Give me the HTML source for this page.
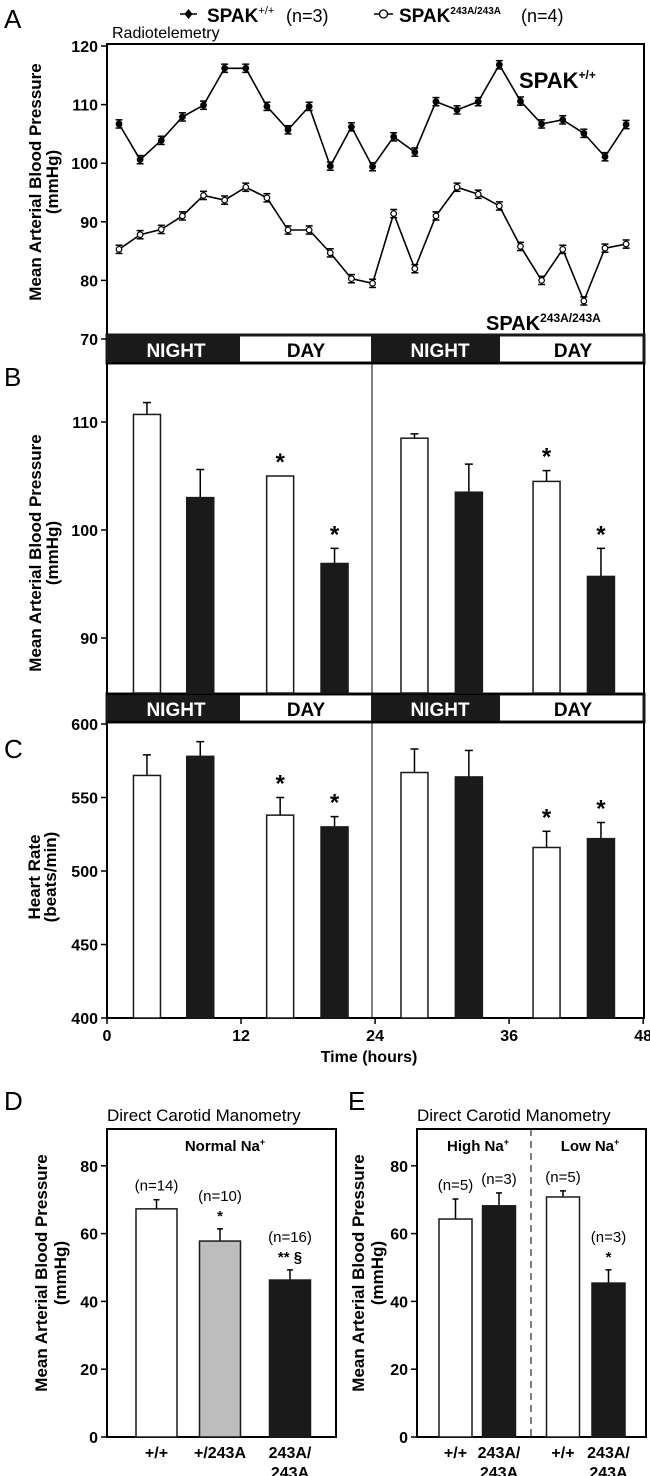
<!DOCTYPE html>
<html><head><meta charset="utf-8"><style>
html,body{margin:0;padding:0;background:#fff;}
svg{display:block;font-family:"Liberation Sans",Arial,sans-serif;}
.b{font-weight:bold;}
</style></head><body>
<svg id="fig" width="650" height="1476" viewBox="0 0 650 1476" xmlns="http://www.w3.org/2000/svg">
<g id="static">
<text x="4" y="28" font-size="26">A</text>
<text x="4" y="386" font-size="26">B</text>
<text x="4" y="758" font-size="26">C</text>
<text x="4" y="1110" font-size="26">D</text>
<text x="348" y="1110" font-size="26">E</text>

<g>
<g>
<line x1="180" y1="14" x2="197" y2="14" stroke="#000" stroke-width="1.5"/>
<path d="M188.5 9 L192.5 14 L188.5 19 L184.5 14Z" fill="#000"/>
<text x="207" y="22" font-size="19" class="b">SPAK<tspan font-size="11" dy="-8" font-weight="normal">+/+</tspan></text>
<text x="286" y="22" font-size="18">(n=3)</text>
</g>
<g>
<line x1="374" y1="14" x2="393" y2="14" stroke="#000" stroke-width="1.5"/>
<circle cx="383.5" cy="14" r="4" fill="#fff" stroke="#000" stroke-width="1.3"/>
<text x="399" y="22" font-size="19" class="b">SPAK<tspan font-size="10" dy="-8" class="b">243A/243A</tspan></text>
<text x="521" y="22" font-size="18">(n=4)</text>
</g>
</g>
<text x="112" y="38" font-size="16">Radiotelemetry</text>

<rect x="107" y="44" width="537" height="291" fill="none" stroke="#000" stroke-width="2"/>
<text x="519" y="88" font-size="22" class="b">SPAK<tspan font-size="12" dy="-9">+/+</tspan></text>
<text x="486" y="330" font-size="20" class="b">SPAK<tspan font-size="12" dy="-8">243A/243A</tspan></text>
<g font-size="17" class="b" text-anchor="middle">
<text transform="translate(41,182) rotate(-90)">Mean Arterial Blood Pressure</text>
<text transform="translate(58,182) rotate(-90)">(mmHg)</text>
<text transform="translate(41,553) rotate(-90)">Mean Arterial Blood Pressure</text>
<text transform="translate(58,553) rotate(-90)">(mmHg)</text>
<text transform="translate(40,877) rotate(-90)">Heart Rate</text>
<text transform="translate(56,877) rotate(-90)">(beats/min)</text>
<text transform="translate(47,1273) rotate(-90)">Mean Arterial Blood Pressure</text>
<text transform="translate(66,1273) rotate(-90)">(mmHg)</text>
<text transform="translate(364,1273) rotate(-90)">Mean Arterial Blood Pressure</text>
<text transform="translate(383,1273) rotate(-90)">(mmHg)</text>
</g>

<g>
<rect x="107" y="335" width="537" height="28" fill="#fff" stroke="#1a1a1a" stroke-width="3"/>
<rect x="107" y="335" width="133" height="28" fill="#1a1a1a"/>
<rect x="371" y="335" width="129" height="28" fill="#1a1a1a"/>
<text x="176" y="357" font-size="19" class="b" fill="#fff" text-anchor="middle">NIGHT</text>
<text x="306" y="357" font-size="19" class="b" text-anchor="middle">DAY</text>
<text x="440" y="357" font-size="19" class="b" fill="#fff" text-anchor="middle">NIGHT</text>
<text x="573" y="357" font-size="19" class="b" text-anchor="middle">DAY</text>
</g>
<g>
<rect x="107" y="694" width="537" height="28" fill="#fff" stroke="#1a1a1a" stroke-width="3"/>
<rect x="107" y="694" width="133" height="28" fill="#1a1a1a"/>
<rect x="371" y="694" width="129" height="28" fill="#1a1a1a"/>
<text x="176" y="716" font-size="19" class="b" fill="#fff" text-anchor="middle">NIGHT</text>
<text x="306" y="716" font-size="19" class="b" text-anchor="middle">DAY</text>
<text x="440" y="716" font-size="19" class="b" fill="#fff" text-anchor="middle">NIGHT</text>
<text x="573" y="716" font-size="19" class="b" text-anchor="middle">DAY</text>
</g>

<rect x="107" y="363" width="537" height="331" fill="none" stroke="#000" stroke-width="2"/>
<line x1="372" y1="363" x2="372" y2="694" stroke="#000" stroke-width="1"/>
<rect x="107" y="722" width="537" height="296" fill="none" stroke="#000" stroke-width="2"/>
<line x1="372" y1="722" x2="372" y2="1018" stroke="#000" stroke-width="1"/>
<text x="369" y="1062" font-size="16" class="b" text-anchor="middle">Time (hours)</text>

<text x="107" y="1121" font-size="17">Direct Carotid Manometry</text>
<rect x="107" y="1129" width="229" height="308" fill="none" stroke="#000" stroke-width="2"/>
<text x="225" y="1151" font-size="15" class="b" text-anchor="middle">Normal Na<tspan font-size="9" dy="-6">+</tspan></text>

<text x="417" y="1121" font-size="17">Direct Carotid Manometry</text>
<rect x="417" y="1129" width="229" height="308" fill="none" stroke="#000" stroke-width="2"/>
<line x1="531" y1="1129" x2="531" y2="1437" stroke="#000" stroke-width="1" stroke-dasharray="7,5"/>
<text x="478" y="1151" font-size="15" class="b" text-anchor="middle">High Na<tspan font-size="9" dy="-6">+</tspan></text>
<text x="590" y="1151" font-size="15" class="b" text-anchor="middle">Low Na<tspan font-size="9" dy="-6">+</tspan></text>
</g>
<g id="dyn"></g>
</svg>
<script>
const aWT = [106.7,100.6,103.9,107.9,109.9,116.2,116.2,109.7,105.7,109.7,99.5,106.2,99.4,104.5,101.9,110.5,109.1,110.5,116.8,110.6,106.7,107.4,105.1,101.1,106.6];
const aKO = [85.3,87.8,88.7,91.0,94.5,93.7,95.9,94.1,88.6,88.6,84.7,80.3,79.5,91.4,82.0,91.0,95.9,94.7,92.7,85.8,80.0,85.3,76.5,85.5,86.2];
const aErr = 0.7;
const aTicks = [120,110,100,90,80,70];
const barHours = [3.6,8.4,15.6,20.5,27.7,32.6,39.6,44.5];
const barGenotype = ['wt','ko','wt','ko','wt','ko','wt','ko'];
const bMAP = [110.7,103.0,105.0,96.9,108.5,103.5,104.5,95.7];
const bErr = [1.1,2.6,0,1.4,0.4,2.6,1.0,2.6];
const bStar = [false,false,true,true,false,false,true,true];
const bTicks = [110,100,90];
const cHR = [565,578,538,530,567,564,516,522];
const cErr = [14,10,12,7,16,18,11,11];
const cStar = [false,false,true,true,false,false,true,true];
const cTicks = [600,550,500,450,400];
const cXTicks = [0,12,24,36,48];
const dCats = ['+/+','+/243A','243A/\n243A'];
const dVals = [67.3,57.8,46.3];
const dErr = [2.7,3.6,3.0];
const dN = ['(n=14)','(n=10)','(n=16)'];
const dSig = ['','*','** §'];
const dFill = ['#fff','#bdbdbd','#1a1a1a'];
const eCats = ['+/+','243A/\n243A','+/+','243A/\n243A'];
const eVals = [64.3,68.2,70.8,45.4];
const eErr = [5.9,3.8,1.8,3.9];
const eN = ['(n=5)','(n=3)','(n=5)','(n=3)'];
const eSig = ['','','','*'];
const eFill = ['#fff','#1a1a1a','#fff','#1a1a1a'];
const dTicks = [0,20,40,60,80];

const NS='http://www.w3.org/2000/svg';
const dyn=document.getElementById('dyn');
function mk(tag,attrs,parent){const e=document.createElementNS(NS,tag);for(const k in attrs)e.setAttribute(k,attrs[k]);(parent||dyn).appendChild(e);return e;}

const yA=v=>46+(120-v)*5.86;
const xA=i=>119+i*21.13;
const yB=v=>530-(v-100)*10.8;
const yC=v=>1018-(v-400)*1.47;
const xH=h=>107+h*11.1;
const yD=v=>1437-v*3.39;

function yTicks(ticks,yf,x,gname){
  const g=mk('g',{});
  
  
  ticks.forEach(t=>{
    mk('line',{x1:x-6,y1:yf(t),x2:x,y2:yf(t),stroke:'#000','stroke-width':1.5},g);
    const tx=mk('text',{x:x-9,y:yf(t)+6,'font-size':16,'font-weight':'bold','text-anchor':'end'},g);
    tx.textContent=t;
  });
}
yTicks(aTicks,yA,107,'panel-a-y-ticks');
yTicks(bTicks,yB,107,'panel-b-y-ticks');
yTicks(cTicks,yC,107,'panel-c-y-ticks');
yTicks(dTicks,yD,107,'panel-d-y-ticks');
yTicks(dTicks,yD,417,'panel-e-y-ticks');

const cx=mk('g',{});


cXTicks.forEach(t=>{
  const x=107+t*11.17;
  mk('line',{x1:x,y1:1018,x2:x,y2:1024,stroke:'#000','stroke-width':1.5},cx);
  const tx=mk('text',{x:x,y:1041,'font-size':16,'font-weight':'bold','text-anchor':'middle'},cx);
  tx.textContent=t;
});

function series(vals,name,filled){
  const g=mk('g',{});
  
  
  mk('polyline',{points:vals.map((v,i)=>xA(i)+','+yA(v)).join(' '),fill:'none',stroke:'#000','stroke-width':1.6},g);
  vals.forEach((v,i)=>{
    const x=xA(i),y=yA(v),e=aErr*5.86;
    mk('line',{x1:x,y1:y-e,x2:x,y2:y+e,stroke:'#000','stroke-width':1.5},g);
    mk('line',{x1:x-3.5,y1:y-e,x2:x+3.5,y2:y-e,stroke:'#000','stroke-width':1.5},g);
    mk('line',{x1:x-3.5,y1:y+e,x2:x+3.5,y2:y+e,stroke:'#000','stroke-width':1.5},g);
    const p=mk('circle',{cx:x,cy:y,r:2.8,fill:filled?'#000':'#fff',stroke:'#000','stroke-width':1.2},g);
    
    
  });
}
series(aWT,'wt-series',true);
series(aKO,'ko-series',false);

function bars(vals,errs,stars,yf,base,name){
  const g=mk('g',{});
  
  
  vals.forEach((v,i)=>{
    const cxp=xH(barHours[i]),w=27,y=yf(v);
    if(errs[i]>0){
      const ye=yf(v+errs[i]);
      mk('line',{x1:cxp,y1:ye,x2:cxp,y2:y,stroke:'#000','stroke-width':1.5},g);
      mk('line',{x1:cxp-4,y1:ye,x2:cxp+4,y2:ye,stroke:'#000','stroke-width':1.5},g);
    }
    const r=mk('rect',{x:cxp-w/2,y:y,width:w,height:base-y,fill:barGenotype[i]==='wt'?'#fff':'#1a1a1a',stroke:'#1a1a1a','stroke-width':1.5},g);
    
    
    if(stars[i]){
      const top=errs[i]>0?yf(v+errs[i]):y;
      const s=mk('text',{x:cxp,y:top-6,'font-size':24,'font-weight':'bold','text-anchor':'middle'},g);
      
      
      s.textContent='*';
    }
  });
}
bars(bMAP,bErr,bStar,yB,693,'panel-b-bars');
bars(cHR,cErr,cStar,yC,1018,'panel-c-bars');

function catBars(vals,errs,cats,ns,sigs,fills,xs,w,name){
  const g=mk('g',{});
  
  
  vals.forEach((v,i)=>{
    const x=xs[i],y=yD(v),ye=yD(v+errs[i]);
    mk('line',{x1:x,y1:ye,x2:x,y2:y,stroke:'#000','stroke-width':1.5},g);
    mk('line',{x1:x-3,y1:ye,x2:x+3,y2:ye,stroke:'#000','stroke-width':1.5},g);
    const r=mk('rect',{x:x-w/2,y:y,width:w,height:1437-y,fill:fills[i],stroke:'#1a1a1a','stroke-width':1.5},g);
    
    
    let ty=ye-9;
    if(sigs[i]){
      const s=mk('text',{x:x,y:ye-8,'font-size':15,'font-weight':'bold','text-anchor':'middle'},g);
      s.textContent=sigs[i];
      ty=ye-28;
    }
    const n=mk('text',{x:x,y:ty,'font-size':15,'text-anchor':'middle'},g);
    n.textContent=ns[i];
    cats[i].split('\n').forEach((ln,k)=>{
      const t=mk('text',{x:x,y:1458+k*20,'font-size':16,'font-weight':'bold','text-anchor':'middle'},g);
      
      
      t.textContent=ln;
    });
  });
}
catBars(dVals,dErr,dCats,dN,dSig,dFill,[156.5,220,290],41,'panel-d-bars');
catBars(eVals,eErr,eCats,eN,eSig,eFill,[455.5,499,563,608.5],33,'panel-e-bars');
</script>
</body></html>
